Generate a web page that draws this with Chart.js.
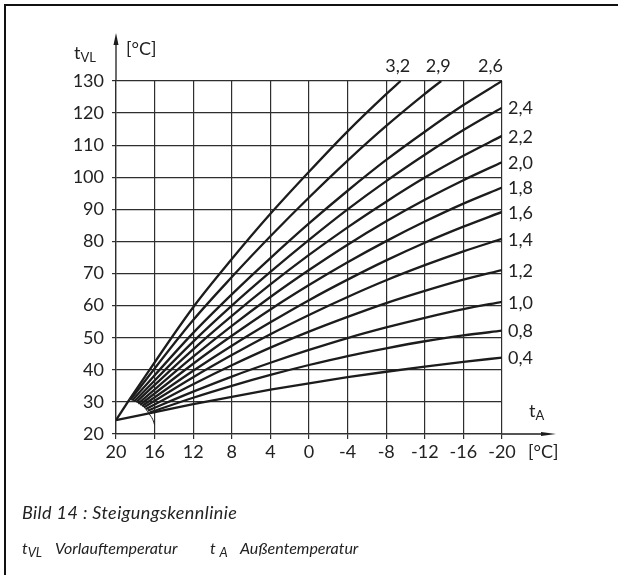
<!DOCTYPE html>
<html>
<head>
<meta charset="utf-8">
<script src="https://cdn.jsdelivr.net/npm/chart.js@4.4.1/dist/chart.umd.min.js"></script>
<style>
  body { margin: 0; background: #fff; }
  #wrap { position: relative; width: 618px; height: 575px; overflow: hidden; font-family: Lato, "Noto Sans", sans-serif; color: #222; }
  #chart { position: absolute; left: 0; top: 0; }
  #frame { position: absolute; left: 4px; top: 4px; width: 640px; height: 600px; border-top: 2.5px solid #111; border-left: 2.5px solid #111; }
  .t { position: absolute; line-height: 1; white-space: nowrap; font-size: 18px; }
  .cap { font-style: italic; font-size: 18px; letter-spacing: 0.4px; }
  .leg { font-style: italic; font-size: 16px; }
  sub { font-size: 13px; vertical-align: -3px; line-height: 0; }
</style>
</head>
<body>
<div id="wrap">
  <div id="frame"></div>
  <canvas id="chart" width="618" height="575"></canvas>
  <div class="t" style="left:74px;top:43px;">t<sub>VL</sub></div>
  <div class="t" style="left:126px;top:39px;">[°C]</div>
  <div class="t" style="left:529px;top:401px;">t<sub>A</sub></div>
  <div class="t" style="left:528px;top:442px;">[°C]</div>
  <div class="t cap" style="left:22px;top:503px;">Bild 14 : Steigungskennlinie</div>
  <div class="t leg" style="left:22px;top:540px;">t<sub>VL</sub></div>
  <div class="t leg" style="left:55px;top:540px;">Vorlauftemperatur</div>
  <div class="t leg" style="left:210px;top:540px;">t <sub>A</sub></div>
  <div class="t leg" style="left:240px;top:540px;">Außentemperatur</div>
</div>
<script>
// Steigung der Heizkennlinien (Beschriftung)
const slopeLabels = ["3,2", "2,9", "2,6", "2,4", "2,2", "2,0", "1,8", "1,6", "1,4", "1,2", "1,0", "0,8", "0,4"];

// Außentemperatur-Stützstellen
const outsideTemps = [12, 8, 4, 0, -4, -8, -12, -16, -20];

// Fußpunkte der Kennlinien
const startTemp = [18.6, 18.5, 18.3, 18.1, 17.9, 17.7, 17.5, 17.3, 17.1, 16.9, 16.7, 16.5, 20];
const startFlow = [30.8, 30.7, 30.5, 30.2, 29.9, 29.5, 29.1, 28.7, 28.3, 27.8, 27.3, 26.7, 24.3];

// Vorlauftemperaturen je Kennlinie
const flow32 = [59.5, 74.5, 88.6, 101.7, 114.3, 125.9];
const flow29 = [55.5, 68.9, 81.6, 93.7, 105.2, 116.0, 126.0];
const flow26 = [51.5, 63.5, 74.8, 85.6, 95.8, 105.4, 114.2, 122.5, 130];
const flow24 = [48.8, 60.0, 70.5, 80.5, 90.0, 98.8, 107.0, 114.7, 121.7];
const flow22 = [46.4, 56.8, 66.6, 75.8, 84.4, 92.4, 99.9, 106.7, 112.9];
const flow20 = [44.1, 53.7, 62.7, 71.1, 79.0, 86.3, 93.0, 99.1, 104.7];
const flow18 = [41.9, 50.6, 58.8, 66.4, 73.5, 80.1, 86.2, 91.8, 96.8];
const flow16 = [39.7, 47.5, 54.8, 61.7, 68.1, 74.1, 79.6, 84.6, 89.2];
const flow14 = [37.7, 44.6, 51.1, 57.1, 62.7, 67.9, 72.6, 76.9, 80.8];
const flow12 = [35.5, 41.4, 46.9, 51.9, 56.5, 60.8, 64.6, 68.1, 71.1];
const flow10 = [33.2, 37.9, 42.2, 46.2, 49.9, 53.2, 56.2, 58.9, 61.2];
const flow08 = [31.3, 35.0, 38.4, 41.5, 44.3, 46.7, 48.9, 50.7, 52.2];
const flow04 = [29.3, 31.6, 33.8, 35.8, 37.7, 39.4, 41.0, 42.5, 43.8];
const flows = [flow32, flow29, flow26, flow24, flow22, flow20, flow18, flow16, flow14, flow12, flow10, flow08, flow04];

// 3,2 und 2,9 enden am oberen Rand (130 °C)
const topEndTemp = [-9.5, -13.7];
const topEndFlow = [130, 130];

// gemeinsamer Anstieg und Bogen der Fußpunkte
const riseTemp = [20, 18.6];
const riseFlow = [24.3, 30.8];
const arcTemp = [18.6, 17.8, 17.1, 16.6, 16.2, 16.0];
const arcFlow = [30.8, 30.0, 28.4, 26.4, 24.6, 22.8];

const ink = "#1c1c1c";
const gridInk = "#2e2e2e";
const tickFont = { family: "Lato, 'Noto Sans', sans-serif", size: 18 };

const curveSets = flows.map((vals, i) => {
    const pts = [{ x: startTemp[i], y: startFlow[i] }];
    vals.forEach((v, k) => pts.push({ x: outsideTemps[k], y: v }));
    if (i < topEndTemp.length) pts.push({ x: topEndTemp[i], y: topEndFlow[i] });
    return {
        label: slopeLabels[i],
        data: pts,
        showLine: true,
        borderColor: ink,
        borderWidth: 2.3,
        pointRadius: 0,
        cubicInterpolationMode: "monotone",
        isCurve: true,
    };
});

const extraSets = [
    {
        label: "Anstieg",
        data: riseTemp.map((t, k) => ({ x: t, y: riseFlow[k] })),
        showLine: true, borderColor: ink, borderWidth: 2.3, pointRadius: 0,
    },
    {
        label: "Bogen",
        data: arcTemp.map((t, k) => ({ x: t, y: arcFlow[k] })),
        showLine: true, borderColor: ink, borderWidth: 1, pointRadius: 0, tension: 0.4,
    },
];

// Pfeile an den Achsen und Kurvenbeschriftung
const decorPlugin = {
    id: "decor",
    afterDatasetsDraw(chart) {
        const { ctx, chartArea } = chart;
        ctx.save();
        ctx.strokeStyle = ink;
        ctx.fillStyle = ink;
        ctx.lineWidth = 1.3;
        // y-Achse nach oben
        ctx.beginPath();
        ctx.moveTo(chartArea.left, chartArea.top);
        ctx.lineTo(chartArea.left, 40);
        ctx.stroke();
        ctx.beginPath();
        ctx.moveTo(chartArea.left, 33);
        ctx.lineTo(chartArea.left - 2.5, 45);
        ctx.lineTo(chartArea.left + 2.5, 45);
        ctx.closePath();
        ctx.fill();
        // x-Achse nach rechts
        ctx.beginPath();
        ctx.moveTo(chartArea.right, chartArea.bottom);
        ctx.lineTo(548, chartArea.bottom);
        ctx.stroke();
        ctx.beginPath();
        ctx.moveTo(556, chartArea.bottom);
        ctx.lineTo(541, chartArea.bottom - 2);
        ctx.lineTo(541, chartArea.bottom + 2);
        ctx.closePath();
        ctx.fill();

        ctx.font = "18px Lato, 'Noto Sans', sans-serif";
        ctx.fillStyle = "#222";
        chart.data.datasets.forEach((ds, i) => {
            if (!ds.isCurve) return;
            const meta = chart.getDatasetMeta(i);
            const last = meta.data[meta.data.length - 1];
            const lastVal = ds.data[ds.data.length - 1].y;
            if (lastVal >= 130) {
                const w = ctx.measureText(ds.label).width;
                let cx = last.x - 3;
                if (cx + w / 2 > chartArea.right + 1) cx = chartArea.right + 1 - w / 2;
                ctx.textAlign = "center";
                ctx.textBaseline = "middle";
                ctx.fillText(ds.label, cx, chartArea.top - 15);
            } else {
                ctx.textAlign = "left";
                ctx.textBaseline = "middle";
                ctx.fillText(ds.label, chartArea.right + 6, last.y + 1);
            }
        });
        ctx.restore();
    },
};

new Chart(document.getElementById("chart").getContext("2d"), {
    type: "scatter",
    data: { datasets: [...curveSets, ...extraSets] },
    options: {
        responsive: false,
        animation: false,
        devicePixelRatio: 1,
        layout: { padding: { left: 5, top: 81, right: 116, bottom: 0 } },
        plugins: { legend: { display: false }, tooltip: { enabled: false } },
        scales: {
            x: {
                type: "linear",
                reverse: true,
                min: -20,
                max: 20,
                ticks: { stepSize: 4, font: tickFont, color: "#222", padding: 2, maxRotation: 0, autoSkip: false },
                grid: { color: gridInk, lineWidth: 1.2, tickLength: 5 },
                border: { color: gridInk, width: 1.3 },
                afterFit: (scale) => { scale.height = 141; },
            },
            y: {
                type: "linear",
                min: 20,
                max: 130,
                ticks: { stepSize: 10, font: tickFont, color: "#222", padding: 8 },
                grid: { color: gridInk, lineWidth: 1.2, tickLength: 4 },
                border: { color: gridInk, width: 1.3 },
                afterFit: (scale) => { scale.width = 111; },
            },
        },
    },
    plugins: [decorPlugin],
});
</script>
</body>
</html>
